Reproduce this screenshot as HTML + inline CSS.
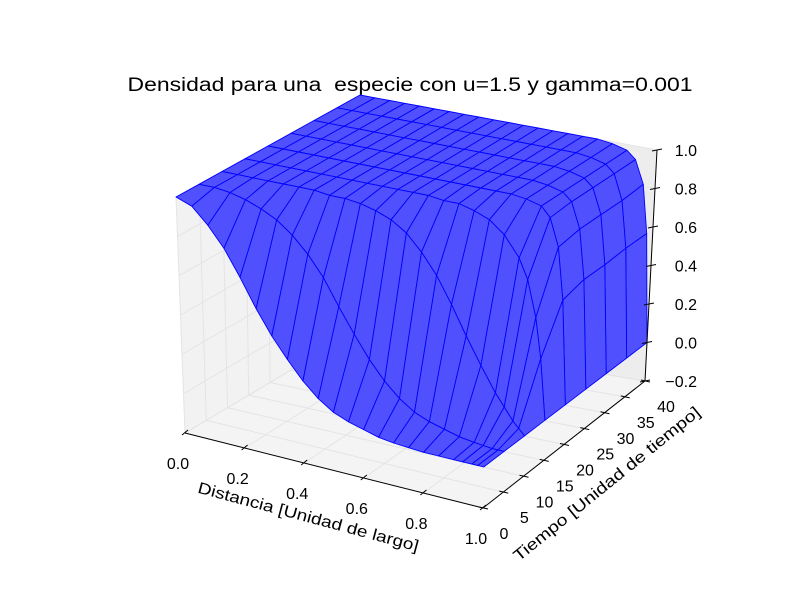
<!DOCTYPE html>
<html><head><meta charset="utf-8"><style>
html,body{margin:0;padding:0;background:#fff;}
svg{display:block;font-family:"Liberation Sans","DejaVu Sans",sans-serif;}
</style></head><body>
<svg id="chart" width="800" height="600" viewBox="0 0 800 600" xmlns="http://www.w3.org/2000/svg">
<rect width="800" height="600" fill="#fff"/>
<text x="410" y="91" font-size="19" text-anchor="middle" fill="#000" style="white-space:pre" textLength="565" lengthAdjust="spacingAndGlyphs">Densidad para una  especie con u=1.5 y gamma=0.001</text>
<g id="panes"></g>
<g id="grid"></g>
<g id="surface"></g>
<g id="axes"></g>
<g id="labels"></g>
<text x="0" y="0" font-size="16" text-anchor="middle" textLength="228" lengthAdjust="spacingAndGlyphs" transform="translate(307,522) rotate(15)">Distancia [Unidad de largo]</text>
<text x="0" y="0" font-size="16" text-anchor="middle" textLength="235" lengthAdjust="spacingAndGlyphs" transform="translate(610,488) rotate(-39)">Tiempo [Unidad de tiempo]</text>
</svg>
<script>
// ---- data ----
const xs = [0,0.05,0.1,0.15,0.2,0.25,0.3,0.35,0.4,0.45,0.5,0.55,0.6,0.65,0.7,0.75,0.8,0.85,0.9,0.93,0.96,0.98,1];
const ts = [0,5,10,15,20,25,30,35,40];
const zT0  = [1,0.97,0.89,0.79,0.66,0.52,0.40,0.30,0.21,0.14,0.09,0.06,0.04,0.02,0.01,0.005,0,0,0,0,0,0,0];
const zT5  = [1,1,0.99,0.97,0.94,0.90,0.84,0.76,0.66,0.53,0.41,0.30,0.21,0.14,0.09,0.06,0.04,0.02,0.01,0.005,0,0,0];
const zT10 = [1,1,1,1,1,1,1,0.99,0.99,0.98,0.96,0.93,0.88,0.80,0.70,0.57,0.43,0.30,0.18,0.12,0.06,0.03,0];
const zT15 = [1,1,1,1,1,1,1,1,1,1,1,1,1,0.99,0.99,0.97,0.94,0.88,0.78,0.68,0.50,0.30,0];
const zT20 = [1,1,1,1,1,1,1,1,1,1,1,1,1,1,1,1,1,0.99,0.97,0.92,0.78,0.52,0];
const zT25 = [1,1,1,1,1,1,1,1,1,1,1,1,1,1,1,1,1,0.99,0.97,0.93,0.80,0.55,0];
const zT30 = [1,1,1,1,1,1,1,1,1,1,1,1,1,1,1,1,1,0.99,0.97,0.93,0.80,0.55,0];
const zT35 = [1,1,1,1,1,1,1,1,1,1,1,1,1,1,1,1,1,0.99,0.97,0.93,0.80,0.56,0];
const zT40 = [1,1,1,1,1,1,1,1,1,1,1,1,1,1,1,1,1,0.99,0.97,0.93,0.81,0.56,0];
const zRows = [zT0,zT5,zT10,zT15,zT20,zT25,zT30,zT35,zT40];
const xTicks = [0,0.2,0.4,0.6,0.8,1.0];
const xTickLabels = ["0.0","0.2","0.4","0.6","0.8","1.0"];
const tTicks = [0,5,10,15,20,25,30,35,40];
const tTickLabels = ["0","5","10","15","20","25","30","35","40"];
const zTicks = [-0.2,0,0.2,0.4,0.6,0.8,1.0];
const zTickLabels = ["\u22120.2","0.0","0.2","0.4","0.6","0.8","1.0"];

// ---- projection (axes box corners) ----
const X0=0,X1=1,T0=0,T1=40,Z0=-0.2,Z1=1.0;
const B00=[185,433],B10=[483,508],B11=[645,381],B01=[355,332];
const U00=[176,197],U10=[487,262],U11=[657,150],U01=[360,95];
function bil(a,b,c,d,u,v){
  return [a[0]*(1-u)*(1-v)+b[0]*u*(1-v)+c[0]*u*v+d[0]*(1-u)*v,
          a[1]*(1-u)*(1-v)+b[1]*u*(1-v)+c[1]*u*v+d[1]*(1-u)*v];
}
function proj(x,t,z){
  const u=(x-X0)/(X1-X0), v=(t-T0)/(T1-T0), w=(z-Z0)/(Z1-Z0);
  const p=bil(B00,B10,B11,B01,u,v), q=bil(U00,U10,U11,U01,u,v);
  return [p[0]+(q[0]-p[0])*w, p[1]+(q[1]-p[1])*w];
}
const NS='http://www.w3.org/2000/svg';
function mk(tag,attrs,parent){const e=document.createElementNS(NS,tag);for(const k in attrs)e.setAttribute(k,attrs[k]);parent.appendChild(e);return e;}
function pts(arr){return arr.map(p=>p[0].toFixed(1)+','+p[1].toFixed(1)).join(' ');}
function line(p,q,stroke,w,parent){return mk('line',{x1:p[0],y1:p[1],x2:q[0],y2:q[1],stroke:stroke,'stroke-width':w},parent);}

const gP=document.getElementById('panes');
let el;
el=mk('polygon',{points:pts([proj(X0,T0,Z0),proj(X0,T1,Z0),proj(X0,T1,Z1),proj(X0,T0,Z1)]),fill:'#f2f2f2'},gP);


el=mk('polygon',{points:pts([proj(X0,T1,Z0),proj(X1,T1,Z0),proj(X1,T1,Z1),proj(X0,T1,Z1)]),fill:'#ededed'},gP);


el=mk('polygon',{points:pts([proj(X0,T0,Z0),proj(X1,T0,Z0),proj(X1,T1,Z0),proj(X0,T1,Z0)]),fill:'#f4f4f4'},gP);



const gG=document.getElementById('grid');
const gc='#e4e4e4';
xTicks.forEach(x=>{
  el=line(proj(x,T0,Z0),proj(x,T1,Z0),gc,1,gG);
  
  
  el=line(proj(x,T1,Z0),proj(x,T1,Z1),gc,1,gG);
  
  
});
tTicks.forEach(t=>{
  el=line(proj(X0,t,Z0),proj(X1,t,Z0),gc,1,gG);
  
  
  el=line(proj(X0,t,Z0),proj(X0,t,Z1),gc,1,gG);
  
  
});
zTicks.forEach(z=>{
  el=line(proj(X0,T0,z),proj(X0,T1,z),gc,1,gG);
  
  
  el=line(proj(X0,T1,z),proj(X1,T1,z),gc,1,gG);
  
  
});

const gS=document.getElementById('surface');
const quads=[];
for(let j=0;j<ts.length-1;j++){
  for(let i=0;i<xs.length-1;i++){
    const xm=(xs[i]+xs[i+1])/2, tm=(ts[j]+ts[j+1])/2;
    quads.push({i,j,key:(1-xm)+tm/40});
  }
}
quads.sort((a,b)=>b.key-a.key);
quads.forEach(q=>{
  const i=q.i,j=q.j;
  const p=[proj(xs[i],ts[j],zRows[j][i]),proj(xs[i+1],ts[j],zRows[j][i+1]),
           proj(xs[i+1],ts[j+1],zRows[j+1][i+1]),proj(xs[i],ts[j+1],zRows[j+1][i])];
  const e=mk('polygon',{points:pts(p),fill:'#5050ff',stroke:'#0000ff','stroke-width':0.9,'stroke-linejoin':'round'},gS);
  
  
});

const gA=document.getElementById('axes');
el=line(proj(X0,T0,Z0),proj(X1,T0,Z0),'#000',1,gA);


el=line(proj(X1,T0,Z0),proj(X1,T1,Z0),'#000',1,gA);


el=line(proj(X1,T1,Z0),proj(X1,T1,Z1),'#000',1,gA);


const gL=document.getElementById('labels');
function txt(s,p,anchor,parent){const e=mk('text',{x:p[0].toFixed(1),y:p[1].toFixed(1),'font-size':16,'text-anchor':anchor,fill:'#000'},parent);e.textContent=s;return e;}
xTicks.forEach((x,k)=>{
  const p=proj(x,T0,Z0);
  el=line([p[0]-3,p[1]+2],[p[0]+3,p[1]-3],'#000',1,gA);
  
  
  el=txt(xTickLabels[k],[p[0]-7,p[1]+36],'middle',gL);
  
  
});
tTicks.forEach((t,k)=>{
  const p=proj(X1,t,Z0);
  el=line([p[0]-4,p[1]-1],[p[0]+5,p[1]+1],'#000',1,gA);
  
  
  el=txt(tTickLabels[k],[p[0]+21,p[1]+31],'middle',gL);
  
  
});
zTicks.forEach((z,k)=>{
  const p=proj(X1,T1,z);
  el=line([p[0]-5,p[1]+1],[p[0]+5,p[1]-1],'#000',1,gA);
  
  
  el=txt(zTickLabels[k],[697,p[1]+6],'end',gL);
  
  
});
</script>
</body></html>
